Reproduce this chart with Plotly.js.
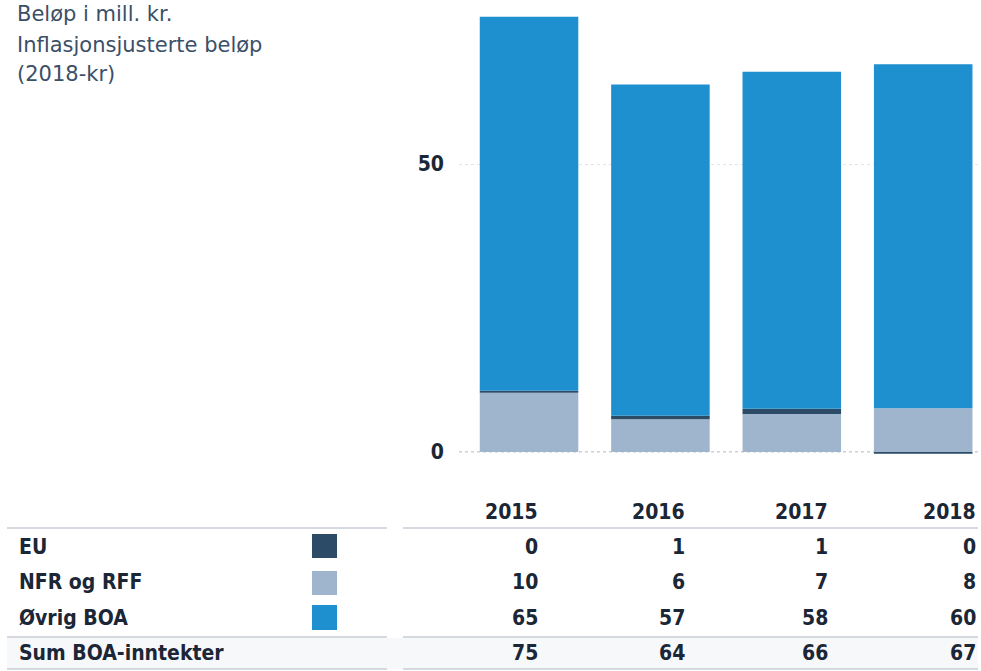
<!DOCTYPE html>
<html>
<head>
<meta charset="utf-8">
<script src="https://cdn.plot.ly/plotly-3.0.1.min.js"></script>
<style>html,body{margin:0;padding:0;background:#fff;}#chart{width:981px;height:671px;}</style>
</head>
<body>
<div id="chart"></div>
<script>
// ---- data ----
var years = ['2015', '2016', '2017', '2018'];
var seriesNames = ['EU', 'NFR og RFF', 'Øvrig BOA'];
var sumLabel = 'Sum BOA-inntekter';
// bar heights (mill. kr, 2018-kr)
var euBars = [0.35, 0.6, 0.9, -0.3];
var nfrBars = [10.3, 5.7, 6.6, 7.6];
var ovrigBars = [64.9, 57.5, 58.5, 59.7];
// values printed in the table
var euTable = [0, 1, 1, 0];
var nfrTable = [10, 6, 7, 8];
var ovrigTable = [65, 57, 58, 60];
var sumTable = [75, 64, 66, 67];
var yTicks = [0, 50];
var noteLines = ['Beløp i mill. kr.', 'Inflasjonsjusterte beløp', '(2018-kr)'];

// ---- styles ----
var cEU = '#2b4b66', cNFR = '#9fb5cd', cOvr = '#1e8fcf';
var textDark = '#1b2636';
var tblFont = {family: 'DejaVu Sans Condensed, Liberation Sans Narrow, sans-serif', size: 21, color: textDark, weight: 700};
var W = 981, H = 671, ML = 459, MB = 215, MT = 0, MR = 0;
var PW = W - ML - MR, PH = H - MT - MB;
function px(x) { return (x - ML) / PW; }
function py(y) { return (PH + MT - y) / PH; }

var traces = [
  {type: 'bar', x: years, y: nfrBars, name: seriesNames[1], marker: {color: cNFR}},
  {type: 'bar', x: years, y: euBars, name: seriesNames[0], marker: {color: cEU}},
  {type: 'bar', x: years, y: ovrigBars, name: seriesNames[2], marker: {color: cOvr}}
];

var ann = [];
var noteY = [14, 45, 74];
noteLines.forEach(function (t, i) {
  ann.push({xref: 'paper', yref: 'paper', x: px(15), y: py(noteY[i]), xanchor: 'left', yanchor: 'middle',
    text: t, showarrow: false, font: {family: 'DejaVu Sans, sans-serif', size: 21, color: '#3b4f68'}});
});
var colRight = [540, 687, 830, 978];
var rowY = {head: 512, eu: 547, nfr: 582, ovr: 618, sum: 653};
years.forEach(function (yr, i) {
  ann.push({xref: 'paper', yref: 'paper', x: px(colRight[i]), y: py(rowY.head), xanchor: 'right', yanchor: 'middle', text: yr, showarrow: false, font: tblFont});
  ann.push({xref: 'paper', yref: 'paper', x: px(colRight[i]), y: py(rowY.eu), xanchor: 'right', yanchor: 'middle', text: String(euTable[i]), showarrow: false, font: tblFont});
  ann.push({xref: 'paper', yref: 'paper', x: px(colRight[i]), y: py(rowY.nfr), xanchor: 'right', yanchor: 'middle', text: String(nfrTable[i]), showarrow: false, font: tblFont});
  ann.push({xref: 'paper', yref: 'paper', x: px(colRight[i]), y: py(rowY.ovr), xanchor: 'right', yanchor: 'middle', text: String(ovrigTable[i]), showarrow: false, font: tblFont});
  ann.push({xref: 'paper', yref: 'paper', x: px(colRight[i]), y: py(rowY.sum), xanchor: 'right', yanchor: 'middle', text: String(sumTable[i]), showarrow: false, font: tblFont});
});
var rowLabels = [[seriesNames[0], rowY.eu], [seriesNames[1], rowY.nfr], [seriesNames[2], rowY.ovr], [sumLabel, rowY.sum]];
rowLabels.forEach(function (r) {
  ann.push({xref: 'paper', yref: 'paper', x: px(17), y: py(r[1]), xanchor: 'left', yanchor: 'middle', text: r[0], showarrow: false, font: tblFont});
});

var shapes = [];
shapes.push({type: 'rect', xref: 'paper', yref: 'paper', x0: px(7), x1: px(978), y0: py(638), y1: py(669), line: {width: 0}, fillcolor: '#f7f8fa', layer: 'below'});
[528, 637, 669].forEach(function (ly) {
  shapes.push({type: 'line', xref: 'paper', yref: 'paper', x0: px(7), x1: px(387), y0: py(ly), y1: py(ly), line: {color: '#c9ced6', width: 1.5}});
  shapes.push({type: 'line', xref: 'paper', yref: 'paper', x0: px(403), x1: px(978), y0: py(ly), y1: py(ly), line: {color: '#c9ced6', width: 1.5}});
});
// dotted baseline at zero
shapes.push({type: 'line', xref: 'paper', yref: 'y', x0: 0, x1: 1, y0: 0, y1: 0, layer: 'below', line: {color: '#9ea3aa', width: 1, dash: 'dot'}});
var sq = [[cEU, 534, 558], [cNFR, 571, 595], [cOvr, 605, 630]];
sq.forEach(function (s) {
  shapes.push({type: 'rect', xref: 'paper', yref: 'paper', x0: px(312), x1: px(337), y0: py(s[2]), y1: py(s[1]), line: {width: 0}, fillcolor: s[0]});
});

var layout = {
  width: W, height: H,
  margin: {l: ML, r: MR, t: MT, b: MB, pad: 0},
  paper_bgcolor: '#ffffff', plot_bgcolor: '#ffffff',
  barmode: 'relative', bargap: 0.25,
  showlegend: false,
  xaxis: {type: 'category', range: [-0.533, 3.44], showticklabels: false, showgrid: false, zeroline: false, showline: false, ticks: ''},
  yaxis: {range: [-0.69, 78.47], tickvals: yTicks, ticktext: yTicks.map(String), showgrid: true, gridcolor: '#e2e5e9', griddash: 'dot', gridwidth: 1,
    zeroline: false, showline: false, ticks: '', ticklabelstandoff: 14,
    tickfont: {family: 'DejaVu Sans Condensed, Liberation Sans Narrow, sans-serif', size: 21, color: textDark, weight: 700}},
  annotations: ann,
  shapes: shapes
};
Plotly.newPlot('chart', traces, layout, {displayModeBar: false, staticPlot: true});
</script>
</body>
</html>
